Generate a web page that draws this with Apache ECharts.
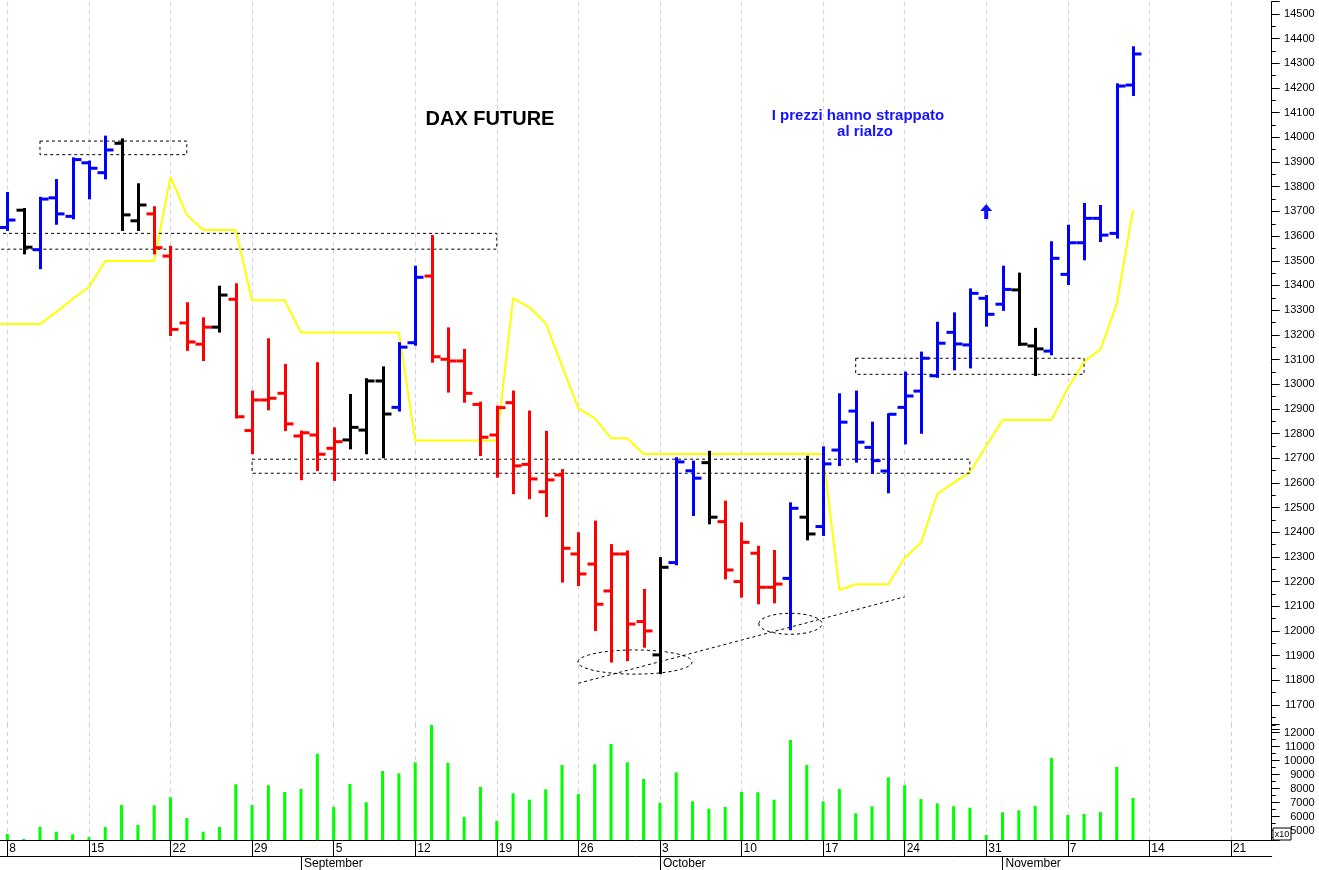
<!DOCTYPE html>
<html>
<head>
<meta charset="utf-8">
<script src="https://cdn.jsdelivr.net/npm/echarts@6/dist/echarts.min.js"></script>
<style>
html,body{margin:0;padding:0;background:#ffffff;}
#chart{width:1319px;height:870px;}
</style>
</head>
<body>
<div id="chart"></div>
<script>
// ---------- DATA ----------
const dates = [
'2022-08-08','2022-08-09','2022-08-10','2022-08-11','2022-08-12',
'2022-08-15','2022-08-16','2022-08-17','2022-08-18','2022-08-19',
'2022-08-22','2022-08-23','2022-08-24','2022-08-25','2022-08-26',
'2022-08-29','2022-08-30','2022-08-31','2022-09-01','2022-09-02',
'2022-09-05','2022-09-06','2022-09-07','2022-09-08','2022-09-09',
'2022-09-12','2022-09-13','2022-09-14','2022-09-15','2022-09-16',
'2022-09-19','2022-09-20','2022-09-21','2022-09-22','2022-09-23',
'2022-09-26','2022-09-27','2022-09-28','2022-09-29','2022-09-30',
'2022-10-03','2022-10-04','2022-10-05','2022-10-06','2022-10-07',
'2022-10-10','2022-10-11','2022-10-12','2022-10-13','2022-10-14',
'2022-10-17','2022-10-18','2022-10-19','2022-10-20','2022-10-21',
'2022-10-24','2022-10-25','2022-10-26','2022-10-27','2022-10-28',
'2022-10-31','2022-11-01','2022-11-02','2022-11-03','2022-11-04',
'2022-11-07','2022-11-08','2022-11-09','2022-11-10','2022-11-11',
'2022-11-14','2022-11-15','2022-11-16','2022-11-17','2022-11-18',
'2022-11-21','2022-11-22','2022-11-23'];

const openPx = [13635,13705,13545,13755,13680,13897,13857,13976,13662,13690,
 13519,13248,13162,13231,13344,12812,12936,12963,12790,12794,
 12740,12774,12814,13013,12906,13168,13438,13101,13094,12918,
 12794,12925,12675,12564,12632,12312,12271,12162,12312,12038,
 11903,12277,12649,12682,12443,12200,12315,12177,12213,12461,
 12423,12733,12891,12744,12648,12906,12972,13034,13210,13159,
 13348,13324,13382,13155,13134,13445,13573,13672,13611,14212];
const highPx = [13775,13710,13755,13827,13915,13902,14003,13992,13810,13717,
 13557,13328,13267,13395,13405,12970,13182,13078,12808,13085,
 12821,12956,13020,13068,13166,13476,13600,13226,13139,12925,
 12909,12970,12889,12807,12652,12396,12443,12348,12322,12166,
 12295,12700,12686,12726,12524,12436,12341,12324,12517,12706,
 12744,12959,12970,12844,12878,13047,13128,13249,13287,13384,
 13357,13476,13448,13224,13575,13642,13730,13722,14215,14365];
const lowPx = [13625,13530,13470,13650,13672,13753,13834,13625,13625,13530,
 13199,13139,13098,13213,12865,12720,12898,12814,12615,12652,
 12612,12740,12720,12704,12893,13160,13091,12970,12929,12713,
 12625,12558,12538,12466,12200,12186,12004,11876,11882,11936,
 11829,12270,12470,12436,12213,12139,12112,12116,12007,12371,
 12389,12672,12686,12641,12562,12760,12803,13030,13060,13068,
 13237,13301,13159,13037,13121,13406,13506,13580,13594,14172];
const closePx = [13665,13555,13750,13690,13910,13875,13949,13686,13726,13553,
 13222,13171,13231,13361,12868,12936,12943,12839,12803,12716,
 12767,12825,13013,12879,13150,13433,13111,13094,12963,12785,
 12905,12669,12616,12612,12335,12231,12108,12312,12028,12000,
 12258,12685,12619,12461,12247,12359,12177,12190,12497,12393,
 12677,12846,12765,12690,12878,12952,13105,13166,13163,13368,
 13283,13384,13162,13143,13510,13573,13672,13604,14208,14338];
// 1 = rising phase, -1 = falling phase, 0 = neutral
const trend = [1,0,1,1,1,1,1,0,0,-1,
 -1,-1,-1,0,-1,-1,-1,-1,-1,-1,
 -1,0,0,0,1,1,-1,-1,-1,-1,
 -1,-1,-1,-1,-1,-1,-1,-1,-1,-1,
 0,1,1,0,-1,-1,-1,-1,1,0,
 1,1,1,1,1,1,1,1,1,1,
 1,1,0,0,1,1,1,1,1,1];
// trailing stop line; the value of the session before the first visible bar is separate
const trailStopBefore = 13244;
const trailStop = [13244,13244,13244,13292,13345,13394,13499,13499,13499,13499,
 13840,13686,13625,13625,13625,13340,13340,13340,13209,13209,
 13209,13209,13209,13209,13209,12772,12772,12772,12772,12772,
 12772,13348,13312,13247,13074,12902,12862,12781,12781,12717,
 12717,12717,12717,12717,12717,12717,12717,12717,12717,12717,
 12717,12166,12189,12189,12189,12296,12357,12555,12600,12643,
 12749,12855,12855,12855,12855,12983,13091,13141,13325,13706];
const volume = [4764,4407,5264,4929,4743,4550,5264,6836,5407,6812,
 7386,5907,4929,5264,8314,6836,8243,7764,7979,10500,
 6693,8336,7029,9264,9100,9886,12550,9836,5979,8121,
 5693,7671,7214,7957,9693,7621,9743,11193,9886,8693,
 7000,9171,7100,6571,6693,7764,7743,7214,11479,9693,
 7100,7979,6243,6743,8814,8243,7264,6957,6743,6643,
 4693,6314,6457,6764,10193,6121,6193,6336,9550,7336];
const monthNames = ['January','February','March','April','May','June','July','August','September','October','November','December'];

// annotations in data units: [startBar, endBar, lowPrice, highPrice]
const zoneRects = [[2,11,13930,13985],[-1,30,13547,13611],[15,59,12639,12696],[52,66,13040,13105]];
// [centerBar, centerPrice, halfWidthBars, halfHeightPoints]
const ellipses = [[38.47,11874,3.5,49],[48.0,12029,1.94,42.5]];
// [bar, price]
const supportLine = [[35.0,11788],[55.0,12138]];
// [bar, price] of the arrow tip
const arrowMark = [[60,13730]];

// ---------- HELPERS ----------
const isMonday = i => new Date(dates[i] + 'T00:00:00Z').getUTCDay() === 1;
const isMonthStart = i => i > 0 && dates[i].slice(5,7) !== dates[i-1].slice(5,7);
function xOf(api, bar, price){
  const base = api.coord([0, price]);
  const band = api.size([1, 0])[0];
  return [base[0] + bar * band, base[1]];
}
const colorOf = t => t > 0 ? '#0000ff' : (t < 0 ? '#ff0000' : '#000000');
const DASH = [3,3];
const gridLine = {show:true, interval:(i)=>isMonday(i), alignWithLabel:true,
  lineStyle:{color:'#cfcfea', type:[4,4], width:1}};

const chart = echarts.init(document.getElementById('chart'), null, {renderer:'canvas'});
const FONT = 'Liberation Sans, Arial, sans-serif';

const option = {
  animation:false,
  backgroundColor:'#ffffff',
  textStyle:{fontFamily:FONT},
  grid:[
    {left:-0.8, right:47.3, top:1.66, height:728.0, outerBoundsMode:'none', containLabel:false},
    {left:-0.8, right:47.3, top:724.3, height:115.7, outerBoundsMode:'none', containLabel:false}
  ],
  xAxis:[
    {type:'category', gridIndex:0, data:dates, boundaryGap:true,
     axisLine:{show:false}, axisTick:{show:false}, axisLabel:{show:false},
     splitLine:gridLine},
    {type:'category', gridIndex:1, data:dates, boundaryGap:true, position:'bottom',
     axisLine:{show:true, lineStyle:{color:'#000', width:1}},
     axisTick:{show:true, interval:(i)=>isMonday(i), alignWithLabel:true, length:16, lineStyle:{color:'#000'}},
     axisLabel:{show:true, interval:(i)=>isMonday(i), formatter:v=>String(Number(v.slice(8))),
       align:'left', padding:[0,0,0,2], margin:3, fontSize:12, color:'#000', fontFamily:FONT},
     splitLine:gridLine},
    {type:'category', gridIndex:1, data:dates, boundaryGap:true, position:'bottom', offset:16,
     axisLine:{show:true, lineStyle:{color:'#000', width:1}},
     axisTick:{show:true, interval:(i)=>isMonthStart(i), alignWithLabel:true, length:14, lineStyle:{color:'#000'}},
     axisLabel:{show:true, interval:(i)=>isMonthStart(i), formatter:v=>monthNames[Number(v.slice(5,7))-1],
       align:'left', padding:[0,0,0,3], margin:2, fontSize:12, color:'#000', fontFamily:FONT},
     splitLine:{show:false}}
  ],
  yAxis:[
    {type:'value', gridIndex:0, position:'right', min:11600, max:14550, interval:100, scale:true,
     axisLine:{show:true, lineStyle:{color:'#000'}},
     axisTick:{show:true, length:8, lineStyle:{color:'#000'}},
     minorTick:{show:true, splitNumber:2, length:4, lineStyle:{color:'#000'}},
     splitLine:{show:false},
     axisLabel:{formatter:v=>(v>=11700 && v<=14500 && v%100===0)?String(v):'',
       align:'right', margin:43, fontSize:11, color:'#000', fontFamily:FONT}},
    {type:'value', gridIndex:1, position:'right', min:4336, max:12600, splitNumber:8,
     minInterval:1000, maxInterval:1000, scale:true,
     axisLine:{show:true, lineStyle:{color:'#000'}},
     axisTick:{show:true, length:8, lineStyle:{color:'#000'}},
     minorTick:{show:true, splitNumber:2, length:4, lineStyle:{color:'#000'}},
     splitLine:{show:false},
     axisLabel:{formatter:v=>(v>=5000 && v<=12000 && v%1000===0)?String(v):'',
       align:'right', margin:43, fontSize:11, color:'#000', fontFamily:FONT}}
  ],
  series:[
    {type:'line', name:'stop', xAxisIndex:0, yAxisIndex:0, data:trailStop,
     symbol:'none', z:2, lineStyle:{color:'#ffff00', width:2}},
    {type:'custom', name:'stopLead', xAxisIndex:0, yAxisIndex:0, z:2,
     data:[[0, trailStop[0]]],
     renderItem:(params, api)=>{
       const p1 = xOf(api, -1, trailStopBefore);
       const p2 = xOf(api, 0, trailStop[0]);
       return {type:'line', shape:{x1:p1[0], y1:p1[1], x2:p2[0], y2:p2[1]},
         style:{stroke:'#ffff00', lineWidth:2}};
     }},
    {type:'custom', name:'zones', xAxisIndex:0, yAxisIndex:0, z:3,
     data:zoneRects.map((r,i)=>[i, r[2]]),
     renderItem:(params, api)=>{
       const r = zoneRects[params.dataIndex];
       const a = xOf(api, r[0], r[3]);
       const b = xOf(api, r[1], r[2]);
       return {type:'rect', shape:{x:a[0], y:a[1], width:b[0]-a[0], height:b[1]-a[1]},
         style:{fill:'none', stroke:'#000', lineWidth:1, lineDash:DASH}};
     }},
    {type:'custom', name:'ellipses', xAxisIndex:0, yAxisIndex:0, z:3,
     data:ellipses.map((e,i)=>[i, e[1]]),
     renderItem:(params, api)=>{
       const e = ellipses[params.dataIndex];
       const c = xOf(api, e[0], e[1]);
       const top = api.coord([0, e[1] + e[3]])[1];
       const band = api.size([1,0])[0];
       return {type:'ellipse', shape:{cx:c[0], cy:c[1], rx:e[2]*band, ry:Math.abs(c[1]-top)},
         style:{fill:'none', stroke:'#000', lineWidth:1, lineDash:DASH}};
     }},
    {type:'custom', name:'support', xAxisIndex:0, yAxisIndex:0, z:3,
     data:[[0, supportLine[0][1]]],
     renderItem:(params, api)=>{
       const p1 = xOf(api, supportLine[0][0], supportLine[0][1]);
       const p2 = xOf(api, supportLine[1][0], supportLine[1][1]);
       return {type:'line', shape:{x1:p1[0], y1:p1[1], x2:p2[0], y2:p2[1]},
         style:{stroke:'#000', lineWidth:1, lineDash:DASH}};
     }},
    {type:'custom', name:'arrow', xAxisIndex:0, yAxisIndex:0, z:3,
     data:arrowMark,
     renderItem:(params, api)=>{
       const p = api.coord([api.value(0), api.value(1)]);
       const x = p[0], y = p[1];
       return {type:'polygon', shape:{points:[[x,y],[x+6,y+7],[x+2,y+7],[x+2,y+15],[x-2,y+15],[x-2,y+7],[x-6,y+7]]},
         style:{fill:'#1010ff', stroke:null}};
     }},
    {type:'custom', name:'DAX', xAxisIndex:0, yAxisIndex:0, z:5,
     data:openPx.map((o,i)=>[i, o, highPx[i], lowPx[i], closePx[i]]),
     encode:{x:0, y:[1,2,3,4]},
     renderItem:(params, api)=>{
       const i = api.value(0);
       const pO = api.coord([i, api.value(1)]);
       const pH = api.coord([i, api.value(2)]);
       const pL = api.coord([i, api.value(3)]);
       const pC = api.coord([i, api.value(4)]);
       const col = colorOf(trend[params.dataIndex]);
       const st = {stroke:col, lineWidth:3};
       const x = Math.round(pH[0]) + 0.5;
       return {type:'group', children:[
         {type:'line', shape:{x1:x, y1:pH[1]-1, x2:x, y2:pL[1]+1}, style:st},
         {type:'line', shape:{x1:x-8, y1:pO[1], x2:x, y2:pO[1]}, style:st},
         {type:'line', shape:{x1:x, y1:pC[1], x2:x+8, y2:pC[1]}, style:st}
       ]};
     }},
    {type:'bar', name:'Volume', xAxisIndex:1, yAxisIndex:1, data:volume,
     barWidth:3, itemStyle:{color:'#00ff00'}, clip:true}
  ],
  graphic:[
    {type:'text', x:490, y:119, z:10,
     style:{text:'DAX FUTURE', font:'bold 20px Liberation Sans, Arial, sans-serif', fill:'#000',
       textAlign:'center', textVerticalAlign:'middle'}},
    {type:'text', x:858, y:116, z:10,
     style:{text:'I prezzi hanno strappato', font:'bold 15px Liberation Sans, Arial, sans-serif', fill:'#1414ff',
       textAlign:'center', textVerticalAlign:'middle'}},
    {type:'text', x:865, y:132, z:10,
     style:{text:'al rialzo', font:'bold 15px Liberation Sans, Arial, sans-serif', fill:'#1414ff',
       textAlign:'center', textVerticalAlign:'middle'}},
    {type:'rect', x:1273, y:828, z:10, shape:{x:0, y:0, width:18, height:12},
     style:{fill:'#fff', stroke:'#000', lineWidth:1}},
    {type:'text', x:1282, y:834.5, z:11,
     style:{text:'x10', font:'9px Liberation Sans, Arial, sans-serif', fill:'#000',
       textAlign:'center', textVerticalAlign:'middle'}}
  ]
};
chart.setOption(option);
</script>
</body>
</html>
